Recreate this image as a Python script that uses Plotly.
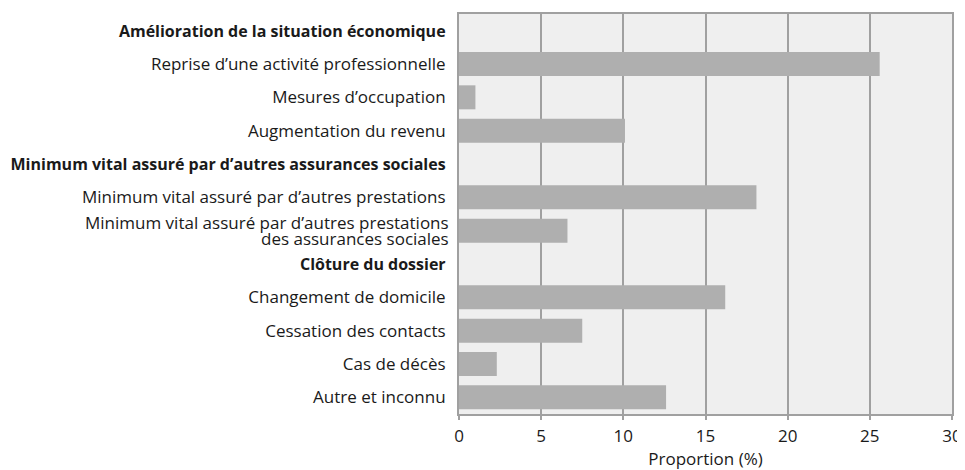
import plotly.graph_objects as go

categories = [
    "Amélioration de la situation économique",
    "Reprise d’une activité professionnelle",
    "Mesures d’occupation",
    "Augmentation du revenu",
    "Minimum vital assuré par d’autres assurances sociales",
    "Minimum vital assuré par d’autres prestations",
    "Minimum vital assuré par d’autres prestations<br>des assurances sociales",
    "Clôture du dossier",
    "Changement de domicile",
    "Cessation des contacts",
    "Cas de décès",
    "Autre et inconnu",
]
headers = [
    "Amélioration de la situation économique",
    "Minimum vital assuré par d’autres assurances sociales",
    "Clôture du dossier",
]
values = [None, 25.6, 1.0, 10.1, None, 18.1, 6.6, None, 16.2, 7.5, 2.3, 12.6]
x_ticks = [0, 5, 10, 15, 20, 25, 30]

ticktext = []
annotations = []
for c in categories:
    if c in headers:
        ticktext.append(f"<b><span style='font-size:16px'>{c}</span></b>")
    elif "<br>" in c:
        ticktext.append("")
        lines = c.split("<br>")
        n = len(lines)
        for i, ln in enumerate(lines):
            annotations.append(dict(
                text=ln, xref="paper", x=0, xanchor="right", xshift=-8,
                yref="y", y=c, yanchor="middle",
                yshift=(n - 1) * 8 - i * 16,
                showarrow=False,
                font=dict(family="'Open Sans', sans-serif", size=17, color="#1a1a1a"),
            ))
    else:
        ticktext.append(c)

fig = go.Figure(
    go.Bar(
        x=values,
        y=categories,
        orientation="h",
        marker=dict(color="#afafaf", line=dict(width=0)),
        width=0.72,
        hoverinfo="x",
    )
)

# page body has an ~7px default offset, compensated in size/margins
fig.update_layout(
    width=958,
    height=463,
    margin=dict(l=451, r=14, t=6, b=57),
    paper_bgcolor="white",
    plot_bgcolor="#efefef",
    font=dict(family="'Open Sans', sans-serif", size=17, color="#1a1a1a"),
    showlegend=False,
    annotations=annotations,
)

fig.update_xaxes(
    range=[0, 30],
    tickvals=x_ticks,
    ticks="outside",
    ticklen=4,
    tickcolor="#a0a0a0",
    tickwidth=2,
    showgrid=True,
    gridcolor="#a0a0a0",
    gridwidth=2,
    showline=True,
    linecolor="#a0a0a0",
    linewidth=2,
    mirror=True,
    zeroline=False,
    automargin=False,
    ticklabelstandoff=2,
    tickfont=dict(family="'Open Sans', sans-serif", size=17, color="#1a1a1a"),
    title=dict(text="Proportion (%)", font=dict(family="'Open Sans', sans-serif", size=17), standoff=0),
)

fig.update_yaxes(
    categoryorder="array",
    categoryarray=categories,
    tickmode="array",
    tickvals=categories,
    ticktext=ticktext,
    autorange="reversed",
    showline=True,
    linecolor="#a0a0a0",
    linewidth=2,
    mirror=True,
    showgrid=False,
    ticks="",
    ticklabelstandoff=8,
    automargin=False,
    tickfont=dict(family="'Open Sans', sans-serif", size=17, color="#1a1a1a"),
)

fig.write_html("out.html")
